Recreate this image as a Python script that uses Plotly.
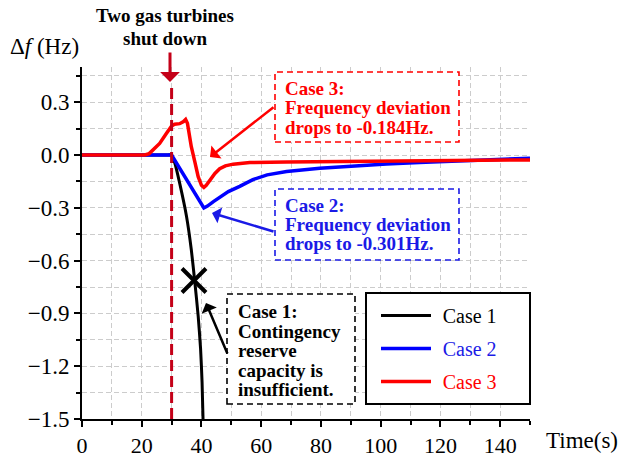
import plotly.graph_objects as go

# ---------------- data ----------------
case1_t = [0, 28, 30, 30.5, 31.1, 32.7, 35.0, 36.6, 37.8, 38.9, 39.7, 40.2, 40.6]
case1_f = [0, 0, 0, -0.02, -0.047, -0.16, -0.349, -0.538, -0.726, -0.915, -1.10, -1.29, -1.55]

case2_t = [0, 30, 40.8, 42, 44, 46, 49, 52.8, 57.2, 62, 68.5, 79.6, 90.7, 102, 113, 124, 135.5, 150]
case2_f = [0, 0, -0.301, -0.29, -0.265, -0.24, -0.208, -0.178, -0.14, -0.113, -0.094, -0.075,
           -0.062, -0.051, -0.043, -0.035, -0.028, -0.018]

case3_t = [0, 21, 22.5, 23.8, 26, 28.3, 30, 31, 32.7, 34, 34.7, 35.3, 36.6, 37.8, 38.9, 40.0, 40.8,
           41.6, 42.5, 43.3, 44.5, 46.1, 48, 50.6, 56.2, 68.5, 90.7, 113, 135, 150]
case3_f = [0, 0, 0.008, 0.028, 0.066, 0.123, 0.165, 0.175, 0.178, 0.19, 0.202, 0.18, 0.047, -0.04,
           -0.123, -0.172, -0.184, -0.172, -0.15, -0.132, -0.105, -0.078, -0.062, -0.052, -0.043,
           -0.04, -0.036, -0.033, -0.03, -0.028]

cross_t = [37.5]
cross_f = [-0.713]

event_time = 30
series_names = ["Case 1", "Case 2", "Case 3"]
x_ticks = [0, 20, 40, 60, 80, 100, 120, 140]
y_ticks = [-1.5, -1.2, -0.9, -0.6, -0.3, 0.0, 0.3]
y_ticklabels = ["\u22121.5", "\u22121.2", "\u22120.9", "\u22120.6", "\u22120.3", "0.0", "0.3"]

# ---------------- layout constants ----------------
W, H = 621, 457
ML, MR, MT, MB = 82, 91, 67, 38
PW, PH = W - ML - MR, H - MT - MB
SERIF = "Liberation Serif, Times New Roman, serif"
GRID = "#cccccc"
EVENT_RED = "#c40018"


def px(x):
    return (x - ML) / PW


def py(y):
    return (H - MB - y) / PH


fig = go.Figure()
colors = ["black", "#0000ff", "#ff0000"]
legend_txt_colors = ["black", "#1a1ae6", "#ff0000"]
for i, (t, f) in enumerate([(case1_t, case1_f), (case2_t, case2_f), (case3_t, case3_f)]):
    fig.add_trace(go.Scatter(
        x=t, y=f, mode="lines",
        name=f"<span style='color:{legend_txt_colors[i]}'>\u2004{series_names[i]}</span>",
        line=dict(color=colors[i], width=3.5 if i else 3,
                  shape="spline" if i == 0 else "linear", smoothing=0.5),
        legendgroup=str(i), cliponaxis=True,
    ))

fig.add_trace(go.Scatter(
    x=cross_t, y=cross_f, mode="markers", showlegend=False,
    marker=dict(symbol="x-thin", size=24, line=dict(color="black", width=4)),
))

shapes = []
# event line
shapes.append(dict(type="line", xref="x", yref="y", x0=event_time, x1=event_time,
                   y0=-1.5, y1=0.38, line=dict(color=EVENT_RED, width=3, dash="11px,5px"),
                   layer="above"))


def box(x0, y0, x1, y1, color):
    shapes.append(dict(type="rect", xref="paper", yref="paper",
                       x0=px(x0), x1=px(x1), y0=py(y1), y1=py(y0),
                       line=dict(color=color, width=1.6, dash="6px,4px"),
                       fillcolor="white", layer="above"))


box(275, 72, 459, 142, "#ff0000")
box(275, 189, 459, 260, "#1a1ae6")
box(227, 294, 355, 404, "black")
# legend frame
shapes.append(dict(type="rect", xref="paper", yref="paper",
                   x0=px(366), x1=px(530), y0=py(404), y1=py(293),
                   line=dict(color="black", width=2), fillcolor="white", layer="above"))

annotations = []


def text(x, y, s, color, size=19, bold=True, anchor="left"):
    annotations.append(dict(xref="paper", yref="paper", x=px(x), y=py(y), text=f"<b>{s}</b>" if bold else s,
                            showarrow=False, xanchor=anchor, yanchor="middle",
                            font=dict(family=SERIF, size=size, color=color)))


def arrow(tipx, tipy, tailx, taily, color, width=2.5):
    annotations.append(dict(xref="paper", yref="paper", x=px(tipx), y=py(tipy), text="",
                            showarrow=True, axref="pixel", ayref="pixel",
                            ax=tailx - tipx, ay=taily - tipy, arrowhead=1, arrowsize=1.1,
                            arrowwidth=width, arrowcolor=color))


for i, s in enumerate(["Case 3:", "Frequency deviation", "drops to -0.184Hz."]):
    text(283, 88 + 19.8 * i, s, "#ff0000")
for i, s in enumerate(["Case 2:", "Frequency deviation", "drops to -0.301Hz."]):
    text(283, 205 + 19.2 * i, s, "#1a1ae6")
for i, s in enumerate(["Case 1:", "Contingency", "reserve", "capacity is", "insufficient."]):
    text(236, 311.5 + 19.6 * i, s, "black")

text(165, 15, "Two gas turbines", "black", anchor="center")
text(165, 38, "shut down", "black", anchor="center")

arrow(210, 157, 275, 106, "#ff0000")
arrow(212, 213, 275, 232, "#1a1ae6")
arrow(206, 303, 228, 355, "black")
arrow(170, 82, 170, 51, EVENT_RED, width=3)

# axis titles
text(8, 47, "\u0394<i>f</i> (Hz)", "black", size=23, bold=False)
text(544, 440, "Time(s)", "black", size=23, bold=False)

axis_common = dict(
    showline=True, linecolor="black", linewidth=2, mirror=False, automargin=False,
    ticks="outside", ticklen=6, tickwidth=2, tickcolor="black",
    showgrid=True, gridcolor=GRID, gridwidth=1, griddash="5px,3px",
    zeroline=False,
)

fig.update_xaxes(range=[0, 150], tickvals=x_ticks,
                 tickfont=dict(family=SERIF, size=22, color="black"),
                 minor=dict(dtick=10, tick0=0, ticks="outside", ticklen=4, tickwidth=2,
                            tickcolor="black", showgrid=True, gridcolor=GRID, griddash="5px,3px"),
                 **axis_common)
fig.update_yaxes(range=[-1.5, 0.5], tickvals=y_ticks, ticktext=y_ticklabels,
                 tickfont=dict(family=SERIF, size=23, color="black"),
                 minor=dict(dtick=0.15, tick0=0, ticks="outside", ticklen=4, tickwidth=2,
                            tickcolor="black", showgrid=True, gridcolor=GRID, griddash="5px,3px"),
                 **axis_common)

fig.update_layout(
    width=W, height=H, margin=dict(l=ML, r=MR, t=MT, b=MB, pad=0, autoexpand=False),
    paper_bgcolor="white", plot_bgcolor="white",
    shapes=shapes, annotations=annotations,
    showlegend=True,
    legend=dict(x=px(376), y=py(296), xanchor="left", yanchor="top",
                bgcolor="rgba(0,0,0,0)", borderwidth=0,
                font=dict(family=SERIF, size=20, color="black"),
                itemwidth=50, tracegroupgap=4),
    font=dict(family=SERIF),
)

fig.write_html("out.html", config={"displayModeBar": False},
               post_script="document.body.style.margin='0';")
